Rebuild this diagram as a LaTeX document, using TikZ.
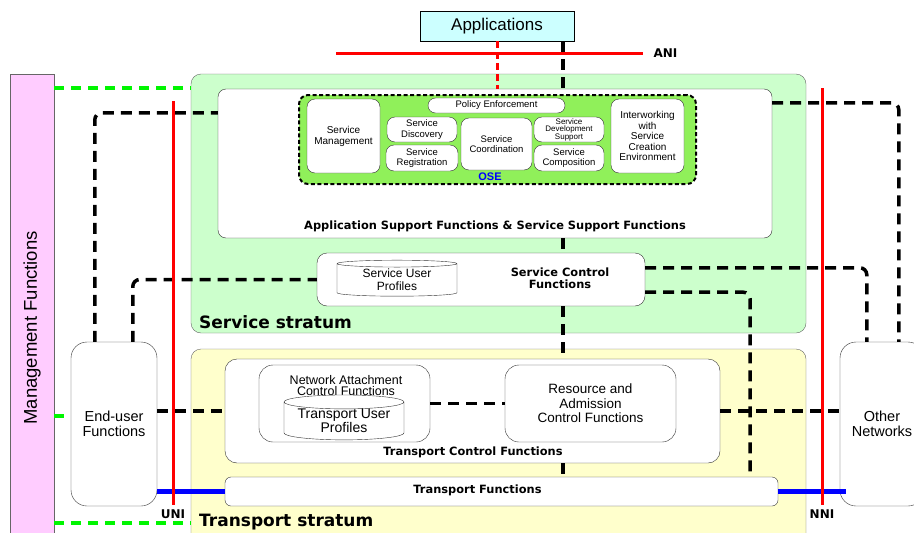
\documentclass[tikz,border=0pt]{standalone}
\usepackage{fontspec}
\setmainfont{Liberation Sans}
\newfontfamily\verdana{DejaVu Sans}
\usetikzlibrary{shapes.geometric}

\definecolor{svcgreen}{RGB}{204,255,204}
\definecolor{trnyellow}{RGB}{255,255,204}
\definecolor{osegreen}{RGB}{144,240,90}
\definecolor{mgmtpink}{RGB}{255,204,255}
\definecolor{appcyan}{RGB}{204,255,255}
\definecolor{mgmtgreen}{RGB}{0,245,0}

\begin{document}
\begin{tikzpicture}[x=1pt,y=-1pt,
    stratum/.style={draw=black!60, rounded corners=10pt, inner sep=0pt},
    fbox/.style={draw=black!80, fill=white, rounded corners=8pt, align=center, inner sep=0pt},
    sbox/.style={fbox, font=\fontsize{9.5}{10.5}\selectfont},
    boldlbl/.style={font=\verdana\bfseries\fontsize{11.4}{12.5}\selectfont, inner sep=0pt, align=center},
    ifacelbl/.style={font=\verdana\bfseries\fontsize{12}{13}\selectfont, inner sep=0pt},
    db/.style={cylinder, shape border rotate=90, draw=black!80, fill=white, align=center, inner sep=0pt},
    link/.style={line width=3.5pt, dash pattern=on 11pt off 7pt, rounded corners=7pt},
    mlink/.style={line width=4.5pt, mgmtgreen, dash pattern=on 10pt off 7pt},
    refline/.style={line width=3pt, red},
    tlink/.style={line width=5pt, blue}]
    \clip (0,0) rectangle (914,533);

    % strata and management
    \node[stratum, fill=svcgreen, minimum width=615pt, minimum height=259pt] (ss) at (498.5,203.5) {};
    \node[stratum, fill=trnyellow, minimum width=615pt, minimum height=220pt] (ts) at (498.5,459) {};
    \node[draw=black!60, fill=mgmtpink, minimum width=44pt, minimum height=508pt] (mgmt) at (32,328) {};
    \node[rotate=90, font=\fontsize{18.5}{20}\selectfont] (mgmtlbl) at (32,328) {Management Functions};
    \node[anchor=west, font=\verdana\bfseries\fontsize{17}{19}\selectfont, inner sep=0pt] (sslbl) at (199,322) {Service stratum};
    \node[anchor=west, font=\verdana\bfseries\fontsize{17}{19}\selectfont, inner sep=0pt] (tslbl) at (199,522) {Transport stratum};

    \node[draw, fill=appcyan, minimum width=154pt, minimum height=30pt, font=\fontsize{17}{18}\selectfont] (apps) at (497,26) {Applications};

    % application support
    \node[fbox, minimum width=554pt, minimum height=149pt] (asf) at (495,163.5) {};
    \node[boldlbl] (asflbl) at (495,226) {Application Support Functions \& Service Support Functions};
    \node[draw, line width=2pt, dash pattern=on 4pt off 2.5pt, fill=osegreen, rounded corners=9pt,
          minimum width=397pt, minimum height=89pt] (ose) at (497.5,139.5) {};
    \node[text=blue, font=\bfseries\fontsize{11}{12}\selectfont, inner sep=0pt] (oselbl) at (490,177) {OSE};
    \node[sbox, minimum width=73pt, minimum height=74pt, font=\fontsize{10}{11}\selectfont] (sm) at (343.5,136) {Service\\Management};
    \node[sbox, minimum width=137pt, minimum height=15pt, rounded corners=7.5pt] (pe) at (496.5,105.5) {Policy Enforcement};
    \node[sbox, minimum width=70pt, minimum height=25pt] (sd) at (422,129.5) {Service\\Discovery};
    \node[sbox, minimum width=72pt, minimum height=26pt] (sr) at (422,158) {Service\\Registration};
    \node[sbox, minimum width=71pt, minimum height=52pt] (sc) at (496.5,144) {Service\\Coordination};
    \node[sbox, minimum width=70pt, minimum height=25pt, font=\fontsize{8}{7.5}\selectfont] (sds) at (569,129.5) {Service\\Development\\Support};
    \node[sbox, minimum width=70pt, minimum height=26pt] (scp) at (569,158) {Service\\Composition};
    \node[sbox, minimum width=73pt, minimum height=74pt, font=\fontsize{10}{10.5}\selectfont] (iw) at (647.5,136) {Interworking\\with\\Service\\Creation\\Environment};

    % service control
    \node[fbox, minimum width=328pt, minimum height=53pt, rounded corners=10pt] (scf) at (481,279.5) {};
    \node[db, minimum width=120pt, minimum height=36pt, aspect=0.1, font=\fontsize{12}{13}\selectfont] (sup) at (397,280) {Service User\\Profiles};
    \node[boldlbl] (scflbl) at (560,278) {Service Control\\Functions};

    % transport control
    \node[fbox, minimum width=495pt, minimum height=104pt, rounded corners=12pt] (tcf) at (472.5,411) {};
    \node[boldlbl] (tcflbl) at (473,452) {Transport Control Functions};
    \node[fbox, minimum width=171pt, minimum height=77pt, rounded corners=14pt] (nacf) at (344.5,403.5) {};
    \node[align=center, inner sep=0pt, font=\fontsize{12.5}{11}\selectfont] (nacflbl) at (346,385.5) {Network Attachment\\Control Functions};
    \node[db, minimum width=120pt, minimum height=40pt, aspect=0.15, font=\fontsize{14}{13}\selectfont] (tup) at (344,421) {Transport User\\Profiles};
    \node[fbox, minimum width=171pt, minimum height=77pt, rounded corners=14pt, font=\fontsize{13.5}{14.5}\selectfont] (racf) at (590.5,403.5) {Resource and\\Admission\\Control Functions};
    \node[fbox, minimum width=553pt, minimum height=29pt, rounded corners=6pt] (tf) at (501.5,491.5) {};
    \node[boldlbl] (tflbl) at (477.5,490.5) {Transport Functions};

    % end points
    \node[fbox, minimum width=86pt, minimum height=164pt, rounded corners=16pt, font=\fontsize{14.5}{15}\selectfont] (eu) at (114,424) {End-user\\Functions};
    \node[fbox, minimum width=84pt, minimum height=164pt, rounded corners=16pt, font=\fontsize{14.5}{15}\selectfont] (on) at (882,424) {Other\\Networks};

    % management links
    \coordinate (g1) at ([yshift=-14pt]ss.north west);
    \coordinate (g2) at ([yshift=8pt]eu.west);
    \coordinate (g3) at ([yshift=-174pt]ts.north west);
    \draw[mlink] (g1 -| mgmt.east) -- (g1);
    \draw[mlink] (g2 -| mgmt.east) -- (g2);
    \draw[mlink] (g3 -| mgmt.east) -- (g3);

    % control links
    \coordinate (spine) at (563,0);
    \draw[link] (apps.south -| spine) -- (asf.north -| spine);
    \draw[link] (asf.south -| spine) -- (scf.north -| spine);
    \draw[link] (scf.south -| spine) -- (tcf.north -| spine);
    \draw[link] (tcf.south -| spine) -- (tf.north -| spine);
    \draw[link] ([xshift=24pt]eu.north west) |- ([yshift=-24pt]asf.north west);
    \draw[link] ([xshift=62pt]eu.north west) |- (scf.west);
    \draw[link] ([yshift=-14pt]asf.north east) -| ([xshift=59pt]on.north west);
    \draw[link] ([yshift=-15pt]scf.north east) -| ([xshift=27pt]on.north west);
    \draw[link] ([yshift=14pt]scf.south east) -| ([xshift=-28pt]tf.north east);
    \draw[link] (tcf.west -| eu.east) -- (tcf.west);
    \draw[link] (tcf.east) -- (tcf.east -| on.west);
    \draw[link] (nacf.east) -- (racf.west);

    % transport links
    \draw[tlink] (tf.west -| eu.east) -- (tf.west);
    \draw[tlink] (tf.east) -- (tf.east -| on.west) -- ++(6,0);

    % reference points
    \draw[refline, dash pattern=on 7pt off 4pt] (apps.south) -- (apps.south |- asf.north);
    \coordinate (aniL) at (336,53);
    \coordinate (aniR) at (643,53);
    \draw[refline] (aniL) -- (aniR) node[ifacelbl, anchor=west, xshift=9pt, text=black] (ani) {ANI};
    \coordinate (uniT) at (173,101);
    \coordinate (uniB) at (173,505);
    \draw[refline] (uniT) -- (uniB) node[ifacelbl, below=3pt, text=black] (uni) {UNI};
    \coordinate (nniT) at (822,88);
    \coordinate (nniB) at (822,505);
    \draw[refline] (nniT) -- (nniB) node[ifacelbl, below=3pt, text=black] (nni) {NNI};
\end{tikzpicture}
\end{document}
